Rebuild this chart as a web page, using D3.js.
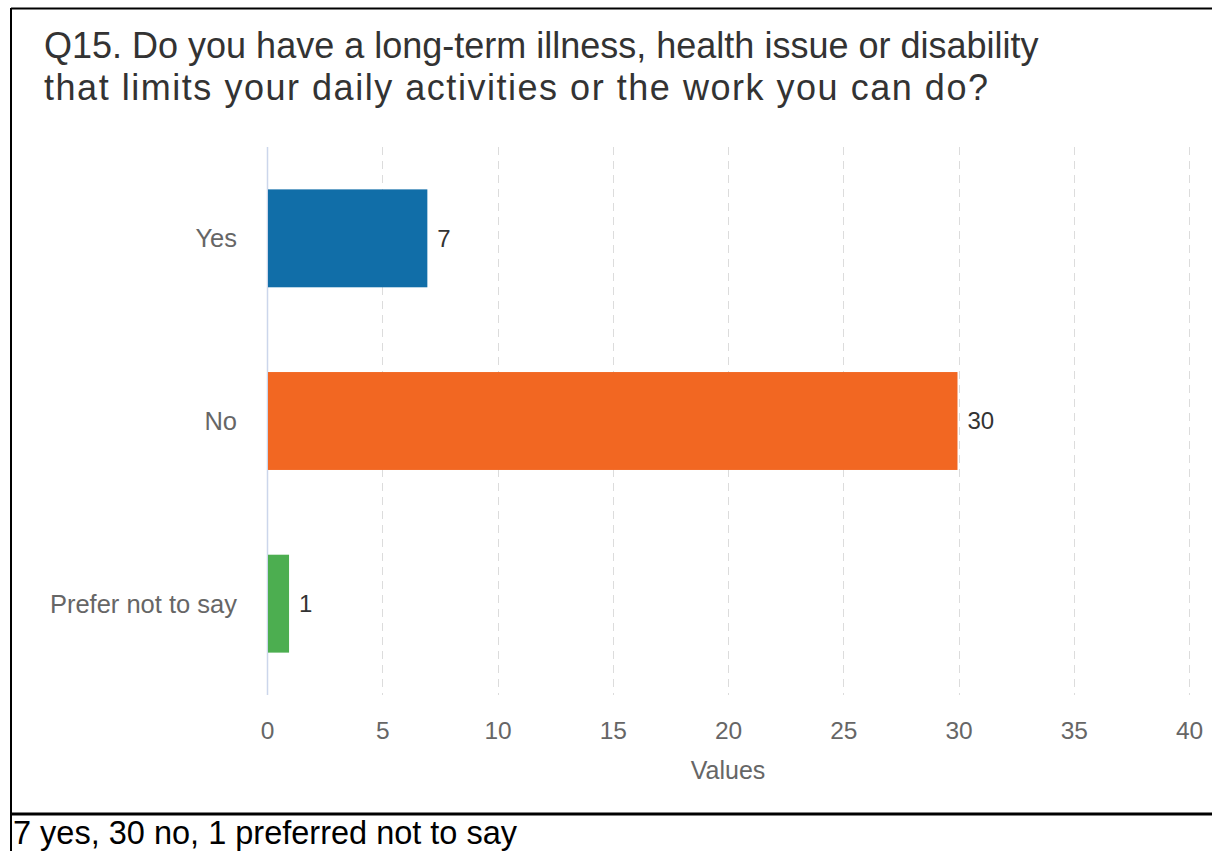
<!DOCTYPE html>
<html>
<head>
<meta charset="utf-8">
<script src="https://cdn.jsdelivr.net/npm/d3@7"></script>
<style>
  html, body { margin: 0; padding: 0; background: #fff; }
  svg { display: block; }
  text { font-family: "Liberation Sans", Arial, sans-serif; }
</style>
</head>
<body>
<svg id="chart" width="1212" height="851"></svg>
<script>
const titleLines = [
  "Q15. Do you have a long-term illness, health issue or disability",
  "that limits your daily activities or the work you can do?"
];
const categories = ["Yes", "No", "Prefer not to say"];
const values = [7, 30, 1];
const barColors = ["#116ea8", "#f26722", "#4cae50"];
const tickValues = [0, 5, 10, 15, 20, 25, 30, 35, 40];
const axisTitle = "Values";
const caption = "7 yes, 30 no, 1 preferred not to say";

const svg = d3.select("#chart");

// frame
svg.append("line").attr("x1", 11).attr("x2", 1212).attr("y1", 8.5).attr("y2", 8.5)
  .attr("stroke", "#000").attr("stroke-width", 2);
svg.append("line").attr("x1", 11).attr("x2", 11).attr("y1", 8).attr("y2", 851)
  .attr("stroke", "#000").attr("stroke-width", 2);
svg.append("line").attr("x1", 10).attr("x2", 1212).attr("y1", 814).attr("y2", 814)
  .attr("stroke", "#000").attr("stroke-width", 3);

// title
const title = svg.append("text").attr("x", 44).attr("y", 58)
  .attr("font-size", 36).attr("fill", "#333");
titleLines.forEach((l, i) => {
  const t = title.append("tspan").attr("x", 44).attr("dy", i === 0 ? 0 : 42).text(l);
  if (i === 1) t.attr("textLength", 944).attr("lengthAdjust", "spacing");
});

const x = d3.scaleLinear().domain([0, 40]).range([267, 1189]);
const y = d3.scaleBand().domain(categories).range([147, 695]).paddingInner(0.464).paddingOuter(0.232);

// grid
svg.append("g").selectAll("line").data(tickValues.filter(d => d > 0)).join("line")
  .attr("x1", d => Math.round(x(d)) + 0.5).attr("x2", d => Math.round(x(d)) + 0.5)
  .attr("y1", 147).attr("y2", 695)
  .attr("stroke", "#dcdcdc").attr("stroke-width", 1).attr("stroke-dasharray", "8,6");

// axis line
svg.append("line").attr("x1", x(0) + 0.5).attr("x2", x(0) + 0.5).attr("y1", 147).attr("y2", 695)
  .attr("stroke", "#ccd6eb").attr("stroke-width", 1.5);

// bars
svg.append("g").selectAll("rect").data(categories).join("rect")
  .attr("x", x(0) + 1)
  .attr("y", d => y(d))
  .attr("width", (d, i) => x(values[i]) - x(0) - 2)
  .attr("height", y.bandwidth())
  .attr("fill", (d, i) => barColors[i]);

// value labels
svg.append("g").selectAll("text").data(categories).join("text")
  .attr("x", (d, i) => x(values[i]) + 9)
  .attr("y", d => y(d) + y.bandwidth() / 2)
  .attr("dy", "0.35em")
  .attr("font-size", 24).attr("fill", "#333")
  .text((d, i) => values[i]);

// category labels
svg.append("g").selectAll("text").data(categories).join("text")
  .attr("x", 237)
  .attr("y", d => y(d) + y.bandwidth() / 2)
  .attr("dy", "0.35em")
  .attr("text-anchor", "end")
  .attr("font-size", 25.5).attr("fill", "#666")
  .text(d => d);

// x tick labels
const xAxis = d3.axisBottom(x).tickValues(tickValues).tickSize(0).tickPadding(0);
const gx = svg.append("g").attr("transform", "translate(0,722)").call(xAxis);
gx.select(".domain").remove();
gx.selectAll("text").attr("font-size", 24.5).attr("fill", "#666")
  .attr("font-family", "'Liberation Sans', Arial, sans-serif");

// axis title
svg.append("text").attr("x", x(20)).attr("y", 779).attr("text-anchor", "middle")
  .attr("font-size", 25).attr("fill", "#666").text(axisTitle);

// caption
svg.append("text").attr("x", 13).attr("y", 844)
  .attr("font-size", 32.5).attr("fill", "#000").text(caption);
</script>
</body>
</html>
